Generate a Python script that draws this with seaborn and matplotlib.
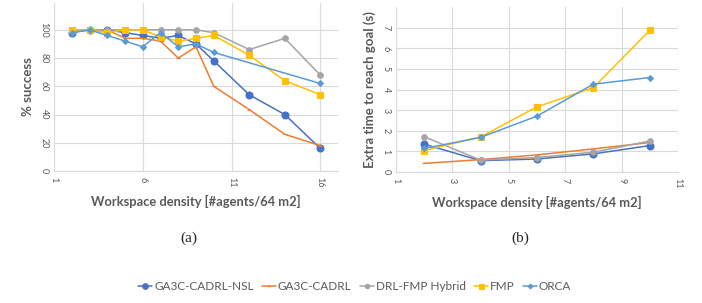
import numpy as np
import pandas as pd
import matplotlib
matplotlib.use('Agg')
import matplotlib.pyplot as plt
import seaborn as sns

# success rate vs density (left)
density_a = [2, 3, 4, 5, 6, 7, 8, 9, 10, 12, 14, 16]
nsl_a = [98, 100, 100, 98, 96, 94, 96, 90, 78, 54, 40, 16]
cadrl_a = [99, 100, 100, 94, 94, 92, 80, 88, 60, 43.5, 26, 18]
hybrid_a = [99, 100, 100, 100, 100, 100, 100, 100, 98, 86, 94, 68]
fmp_a = [100, 100, 98, 100, 100, 95, 92, 94, 96, 82, 64, 54]
orca_a = [98, 100, 96, 92, 88, 98, 88, 90, 84, np.nan, np.nan, 62]

# extra time vs density (right)
density_b = [2, 4, 6, 8, 10]
nsl_b = [1.35, 0.55, 0.63, 0.88, 1.28]
cadrl_b = [0.42, 0.6, 0.83, 1.12, 1.43]
hybrid_b = [1.71, 0.58, 0.7, 0.96, 1.5]
fmp_b = [1.04, 1.7, 3.16, 4.09, 6.87]
orca_b = [1.14, 1.68, 2.71, 4.26, 4.58]

names = ['GA3C-CADRL-NSL', 'GA3C-CADRL', 'DRL-FMP Hybrid', 'FMP', 'ORCA']
colors = ['#4472C4', '#ED7D31', '#A5A5A5', '#FFC000', '#5B9BD5']
markers = ['o', '_', 'o', 's', 'D']
msizes = [5, 3, 4, 4.5, 3]

sns.set_style('white')
plt.rcParams['font.family'] = ['Lato', 'DejaVu Sans']
txt = '#595959'

fig = plt.figure(figsize=(7.02, 3.03), dpi=100)
ax1 = fig.add_axes([54 / 702, 1 - 171 / 303, 284 / 702, 168 / 303])
ax2 = fig.add_axes([396 / 702, 1 - 172 / 303, 282 / 702, 165 / 303])


def draw(ax, x, series):
    for ys, name, c, m, ms in zip(series, names, colors, markers, msizes):
        df = pd.DataFrame({'x': x, 'y': ys}).dropna()
        sns.lineplot(data=df, x='x', y='y', ax=ax, color=c, marker=m, markersize=ms,
                     markeredgecolor=c, markeredgewidth=0.8, linewidth=1.1, label=name,
                     legend=False)


draw(ax1, density_a, [nsl_a, cadrl_a, hybrid_a, fmp_a, orca_a])
draw(ax2, density_b, [nsl_b, cadrl_b, hybrid_b, fmp_b, orca_b])

ax1.set_xlim(1, 17)
ax1.set_ylim(0, 119)
ax1.set_xticks([1, 6, 11, 16])
ax1.set_yticks([0, 20, 40, 60, 80, 100])
ax1.set_ylabel('% success', fontsize=9.5, fontweight='bold', color=txt, labelpad=4)

ax2.set_xlim(1, 11)
ax2.set_ylim(0, 8)
ax2.set_xticks([1, 3, 5, 7, 9, 11])
ax2.set_yticks(range(8))
ax2.set_ylabel('Extra time to reach goal (s)', fontsize=9.5, fontweight='bold', color=txt, labelpad=4)

for ax in (ax1, ax2):
    ax.grid(True, color='#D9D9D9', linewidth=0.8)
    ax.set_axisbelow(True)
    for s in ['top', 'right', 'left']:
        ax.spines[s].set_visible(False)
    ax.spines['bottom'].set_color('#D9D9D9')
    ax.tick_params(length=0, labelsize=6.5, labelcolor=txt, pad=4)
    for lab in ax.get_xticklabels() + ax.get_yticklabels():
        lab.set_rotation(-90)
    for lab in ax.get_yticklabels():
        lab.set_verticalalignment('center')
    ax.set_xlabel('Workspace density [#agents/64 m2]', fontsize=9.3, fontweight='bold',
                  color=txt, labelpad=6)

fig.text(189 / 702, 1 - 238 / 303, '(a)', family='Liberation Serif', fontsize=11,
         ha='center', va='center')
fig.text(520 / 702, 1 - 238 / 303, '(b)', family='Liberation Serif', fontsize=11,
         ha='center', va='center')

handles, labels = ax1.get_legend_handles_labels()
fig.legend(handles, labels, loc='center', bbox_to_anchor=(0.505, 1 - 287 / 303), ncol=5,
           frameon=False, fontsize=8.5, handlelength=1.2, handletextpad=0.15,
           columnspacing=0.7, labelcolor=txt, markerscale=0.8)

fig.savefig('out.png', dpi=100)
